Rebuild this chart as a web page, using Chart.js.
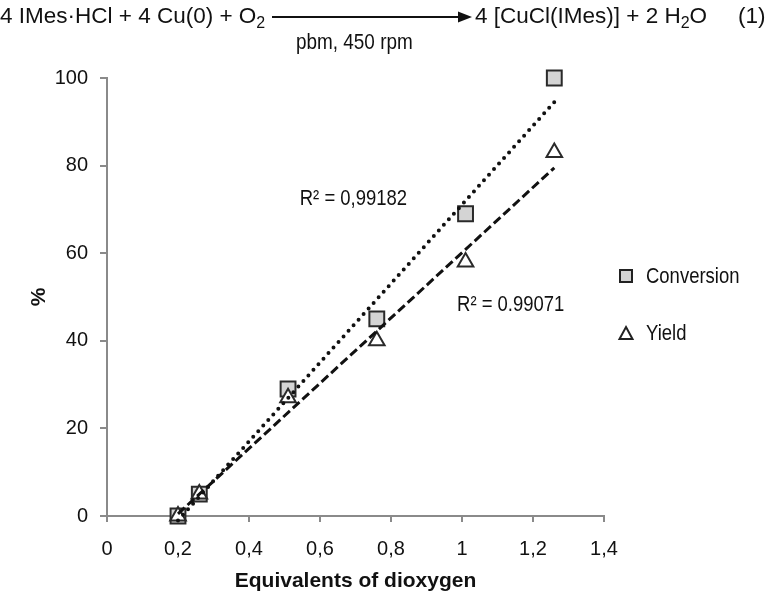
<!DOCTYPE html>
<html>
<head>
<meta charset="utf-8">
<script src="https://cdn.jsdelivr.net/npm/chart.js@4.4.0/dist/chart.umd.min.js"></script>
<style>
  body { margin: 0; background: #fff; }
  #wrap { position: relative; width: 774px; height: 599px; overflow: hidden;
          font-family: "Liberation Sans Narrow", "Arial Narrow", "Liberation Sans", sans-serif; color: #111; }
  #chart { position: absolute; left: 0; top: 0; }
  .eq { position: absolute; font-size: 22.5px; line-height: 1; white-space: nowrap; }
  .eq sub { font-size: 16px; vertical-align: -5px; line-height: 0; }
  #arrow { position: absolute; left: 270px; top: 10px; }
</style>
</head>
<body>
<div id="wrap">
  <canvas id="chart" width="774" height="599"></canvas>
  <span class="eq" style="left:0px;top:5px">4 IMes·HCl + 4 Cu(0) + O<sub>2</sub></span>
  <svg id="arrow" width="205" height="14">
    <line x1="2" y1="7" x2="190" y2="7" stroke="#111" stroke-width="2"/>
    <polygon points="188,1.5 202,7 188,12.5" fill="#111"/>
  </svg>
  <span class="eq" style="left:296px;top:32px;font-size:21.5px;transform:scaleX(0.88);transform-origin:left">pbm, 450 rpm</span>
  <span class="eq" style="left:475px;top:5px">4 [CuCl(IMes)] + 2 H<sub>2</sub>O</span>
  <span class="eq" style="left:738px;top:5px">(1)</span>
</div>
<script>
// equivalents of O2 on x, % on y
const oxygenEq = [0.2, 0.26, 0.51, 0.76, 1.01, 1.26];
const conversion = [0, 5, 29, 45, 69, 100];
const yieldPct = [0, 5, 27, 40, 58, 83];

// linear trendlines, ends
const trendX = [0.2, 1.26];
const conversionTrend = [-1, 94.5];
const yieldTrend = [0.5, 79.5];

const xTicks = [0, 0.2, 0.4, 0.6, 0.8, 1, 1.2, 1.4];
const yTicks = [0, 20, 40, 60, 80, 100];
const r2Texts = ['R² = 0,99182', 'R² = 0.99071'];

const FONT = '"Liberation Sans Narrow", "Arial Narrow", "Liberation Sans", sans-serif';
const axisGrey = '#8a8a8a';

const toPoints = (xs, ys) => xs.map((x, i) => ({ x: x, y: ys[i] }));

// squeezed text, the original uses a narrow face
function narrowText(ctx, txt, x, y) {
  ctx.save();
  ctx.translate(x, y);
  ctx.scale(0.84, 1);
  ctx.fillText(txt, 0, 0);
  ctx.restore();
}

// R² labels (data coords) and the hand drawn legend on the right
const annotations = {
  id: 'annotations',
  afterDraw(chart) {
    const { ctx, scales: { x, y } } = chart;
    ctx.save();
    ctx.fillStyle = '#111';
    ctx.font = '22px ' + FONT;
    ctx.textBaseline = 'middle';
    ctx.textAlign = 'left';
    narrowText(ctx, r2Texts[0], x.getPixelForValue(0.543), y.getPixelForValue(72.5));
    narrowText(ctx, r2Texts[1], x.getPixelForValue(0.986), y.getPixelForValue(48.2));

    // legend
    const lx = 626;
    ctx.lineWidth = 2;
    ctx.strokeStyle = '#222';
    ctx.fillStyle = '#d4d4d4';
    ctx.fillRect(lx - 6, 270, 12, 12);
    ctx.strokeRect(lx - 6, 270, 12, 12);
    ctx.fillStyle = '#fff';
    ctx.beginPath();
    ctx.moveTo(lx, 327);
    ctx.lineTo(lx + 6.5, 339);
    ctx.lineTo(lx - 6.5, 339);
    ctx.closePath();
    ctx.fill();
    ctx.stroke();
    ctx.fillStyle = '#111';
    narrowText(ctx, chart.data.datasets[0].label, 646, 277);
    narrowText(ctx, chart.data.datasets[1].label, 646, 334);
    ctx.restore();
  }
};

new Chart(document.getElementById('chart'), {
  type: 'scatter',
  data: {
    datasets: [
      {
        label: 'Conversion',
        data: toPoints(oxygenEq, conversion),
        pointStyle: 'rect',
        pointRadius: 10.5,
        pointBackgroundColor: '#d4d4d4',
        pointBorderColor: '#2a2a2a',
        pointBorderWidth: 2,
        showLine: false,
        clip: false,
        order: 2
      },
      {
        label: 'Yield',
        data: toPoints(oxygenEq, yieldPct),
        pointStyle: 'triangle',
        pointRadius: 9,
        pointBackgroundColor: '#ffffff',
        pointBorderColor: '#2a2a2a',
        pointBorderWidth: 2,
        showLine: false,
        clip: false,
        order: 1
      },
      {
        label: 'Conversion trend',
        data: toPoints(trendX, conversionTrend),
        showLine: true,
        pointRadius: 0,
        borderColor: '#111',
        borderWidth: 4,
        borderDash: [0, 7.5],
        borderCapStyle: 'round',
        clip: false,
        order: 0
      },
      {
        label: 'Yield trend',
        data: toPoints(trendX, yieldTrend),
        showLine: true,
        pointRadius: 0,
        borderColor: '#111',
        borderWidth: 3,
        borderDash: [9, 4],
        clip: false,
        order: 0
      }
    ]
  },
  options: {
    responsive: false,
    animation: false,
    layout: { padding: { top: 78, right: 170, left: 0, bottom: 0 } },
    plugins: {
      legend: { display: false },
      tooltip: { enabled: false }
    },
    scales: {
      x: {
        type: 'linear',
        min: 0,
        max: 1.4,
        afterBuildTicks: s => { s.ticks = xTicks.map(v => ({ value: v })); },
        afterFit: s => { s.height = 83; },
        border: { color: axisGrey, width: 2 },
        grid: { drawOnChartArea: false, color: axisGrey, lineWidth: 2, tickLength: 6 },
        ticks: {
          color: '#111',
          font: { family: FONT, size: 20 },
          padding: 15,
          maxRotation: 0,
          callback: v => String(v).replace('.', ',')
        },
        title: {
          display: true,
          text: 'Equivalents of dioxygen',
          color: '#111',
          font: { family: FONT, size: 21, weight: 'bold' },
          padding: { top: 0, bottom: 5 }
        }
      },
      y: {
        min: 0,
        max: 100,
        afterBuildTicks: s => { s.ticks = yTicks.map(v => ({ value: v })); },
        afterFit: s => { s.width = 107; },
        border: { color: axisGrey, width: 2 },
        grid: { drawOnChartArea: false, color: axisGrey, lineWidth: 2, tickLength: 7 },
        ticks: {
          color: '#111',
          font: { family: FONT, size: 20 },
          padding: 12
        },
        title: {
          display: true,
          text: '%',
          color: '#111',
          font: { family: FONT, size: 21, weight: 'bold' },
          padding: { top: 27, bottom: 0 }
        }
      }
    }
  },
  plugins: [annotations]
});
</script>
</body>
</html>
